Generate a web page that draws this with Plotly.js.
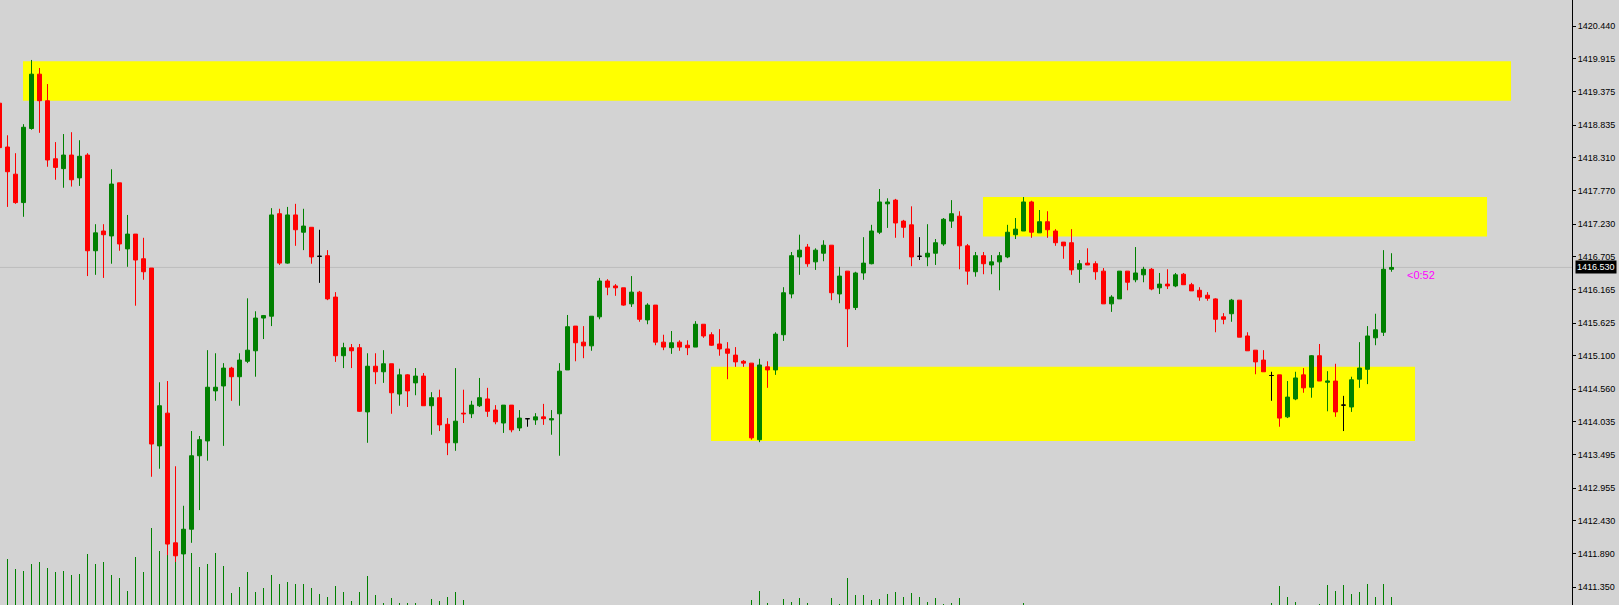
<!DOCTYPE html>
<html><head><meta charset="utf-8">
<script src="https://cdn.plot.ly/plotly-3.0.1.min.js"></script>
<style>html,body{margin:0;padding:0;background:#d3d3d3;overflow:hidden}</style>
</head><body><div id="chart" style="width:1619px;height:605px"></div>
<script>
const openP = [1419.19,1418.48,1418.04,1417.58,1418.78,1419.66,1419.23,1418.29,1418.13,1418.35,1417.98,1418.35,1416.80,1417.12,1417.04,1417.90,1416.83,1417.07,1416.67,1416.52,
1413.64,1414.17,1412.07,1411.89,1412.29,1413.48,1413.72,1414.53,1414.61,1414.90,1414.76,1415.01,1415.18,1415.71,1415.74,1417.40,1416.60,1417.38,1417.10,1417.18,
1416.71,1416.72,1416.05,1415.10,1415.23,1415.23,1414.19,1414.93,1414.84,1414.97,1414.48,1414.79,1414.66,1414.77,1414.29,1414.42,1413.99,1413.69,1414.17,1414.16,
1414.29,1414.40,1414.22,1414.01,1414.30,1413.93,1414.08,1414.06,1414.11,1414.06,1414.16,1414.87,1415.58,1415.32,1415.26,1415.73,1416.31,1416.23,1416.20,1415.94,
1416.13,1415.68,1415.92,1415.32,1415.23,1415.32,1415.27,1415.24,1415.61,1415.44,1415.29,1415.21,1415.11,1415.01,1414.98,1413.74,1414.92,1414.87,1415.44,1416.10,
1416.70,1416.86,1416.62,1416.76,1416.89,1416.10,1416.47,1415.88,1416.44,1416.59,1417.10,1417.56,1417.62,1417.28,1417.22,1416.71,1416.70,1416.76,1416.91,1417.28,
1417.36,1416.88,1416.46,1416.72,1416.57,1416.62,1416.70,1417.06,1417.12,1417.59,1417.09,1417.27,1417.12,1416.94,1416.93,1416.50,1416.60,1416.59,1416.47,1415.94,
1416.02,1416.47,1416.33,1416.41,1416.50,1416.20,1416.26,1416.23,1416.42,1416.25,1416.16,1416.08,1416.02,1415.73,1415.78,1416.00,1415.42,1415.19,1415.03,1414.78,
1414.79,1414.11,1414.40,1414.79,1414.59,1415.10,1414.67,1414.69,1414.30,1414.27,1414.72,1414.88,1415.39,1415.48,1416.50];
const highP = [1419.27,1418.67,1418.38,1418.85,1419.89,1419.76,1419.50,1418.56,1418.69,1418.72,1418.59,1418.38,1417.23,1417.23,1418.12,1417.90,1417.38,1417.07,1417.01,1416.52,
1414.67,1414.69,1413.31,1412.67,1413.88,1413.80,1415.19,1415.14,1414.98,1414.92,1415.14,1416.03,1415.82,1415.76,1417.49,1417.48,1417.51,1417.56,1417.48,1417.18,
1417.14,1416.81,1416.13,1415.31,1415.29,1415.29,1415.14,1415.14,1415.19,1414.97,1414.89,1414.80,1414.90,1414.82,1414.51,1414.55,1414.09,1414.90,1414.55,1414.37,
1414.74,1414.58,1414.30,1414.30,1414.30,1414.22,1414.09,1414.17,1414.32,1414.22,1414.98,1415.76,1415.58,1415.58,1415.74,1416.36,1416.34,1416.26,1416.20,1416.39,
1416.15,1415.95,1415.92,1415.44,1415.50,1415.35,1415.35,1415.66,1415.61,1415.48,1415.53,1415.32,1415.24,1415.03,1414.98,1415.05,1415.01,1415.48,1416.21,1416.78,
1417.06,1416.91,1416.84,1416.97,1416.89,1416.54,1416.47,1416.46,1417.02,1417.22,1417.80,1417.65,1417.64,1417.30,1417.52,1417.02,1417.23,1416.99,1417.33,1417.62,
1417.44,1416.91,1416.78,1416.78,1416.73,1416.78,1417.22,1417.33,1417.67,1417.61,1417.46,1417.44,1417.15,1416.94,1417.15,1416.65,1416.84,1416.63,1416.52,1416.08,
1416.47,1416.47,1416.86,1416.54,1416.52,1416.44,1416.50,1416.44,1416.44,1416.28,1416.21,1416.13,1416.03,1415.79,1416.02,1416.00,1415.48,1415.19,1415.19,1414.84,
1414.79,1414.69,1414.84,1414.90,1415.11,1415.29,1414.85,1414.97,1414.45,1414.76,1415.32,1415.58,1415.78,1416.81,1416.76];
const lowP = [1418.43,1417.51,1417.56,1417.35,1418.76,1418.71,1418.16,1417.95,1417.82,1417.84,1417.85,1416.39,1416.41,1416.36,1416.59,1416.80,1416.54,1415.91,1416.33,1413.14,
1413.27,1411.87,1411.76,1411.79,1412.07,1412.60,1413.40,1414.37,1413.64,1414.37,1414.29,1414.98,1414.76,1415.37,1415.58,1416.57,1416.59,1416.88,1416.81,1416.59,
1416.28,1416.00,1415.00,1414.90,1414.90,1414.19,1413.69,1414.64,1414.66,1414.16,1414.29,1414.27,1414.46,1414.29,1413.82,1413.88,1413.49,1413.56,1414.01,1414.09,
1414.27,1414.11,1413.99,1413.85,1413.86,1413.88,1413.95,1413.98,1413.98,1413.82,1413.48,1414.87,1415.01,1415.06,1415.18,1415.69,1416.08,1416.07,1415.91,1415.89,
1415.65,1415.61,1415.27,1415.19,1415.13,1415.18,1415.11,1415.24,1415.39,1415.26,1415.10,1414.72,1414.92,1414.92,1413.74,1413.70,1414.58,1414.79,1415.34,1416.03,
1416.41,1416.54,1416.49,1416.63,1416.00,1415.95,1415.24,1415.84,1416.33,1416.58,1417.07,1417.17,1417.01,1417.01,1416.55,1416.65,1416.55,1416.57,1416.88,1417.17,
1416.50,1416.25,1416.38,1416.42,1416.42,1416.16,1416.68,1416.99,1417.12,1417.01,1417.09,1417.01,1416.88,1416.67,1416.41,1416.28,1416.57,1416.33,1415.94,1415.81,
1416.02,1416.16,1416.29,1416.29,1416.16,1416.10,1416.18,1416.21,1416.25,1416.15,1415.99,1415.99,1415.48,1415.61,1415.65,1415.40,1415.18,1414.80,1414.84,1414.37,
1413.95,1414.09,1414.38,1414.50,1414.42,1414.69,1414.20,1414.11,1413.88,1414.19,1414.58,1414.64,1415.27,1415.42,1416.46];
const closeP = [1418.47,1418.08,1417.58,1418.80,1419.66,1419.23,1418.27,1418.15,1418.35,1417.95,1418.33,1416.80,1417.09,1417.06,1417.88,1416.91,1417.07,1416.65,1416.46,1413.67,
1414.29,1412.05,1411.86,1412.29,1413.48,1413.74,1414.59,1414.59,1414.90,1414.76,1415.03,1415.19,1415.71,1415.75,1417.38,1416.60,1417.38,1417.14,1417.20,1416.70,
1416.71,1416.02,1415.10,1415.23,1415.18,1414.20,1414.93,1414.84,1414.97,1414.50,1414.79,1414.53,1414.77,1414.29,1414.42,1413.98,1413.69,1414.04,1414.16,1414.30,
1414.42,1414.20,1414.03,1414.30,1413.90,1414.09,1414.08,1414.11,1414.08,1414.08,1414.85,1415.57,1415.31,1415.26,1415.74,1416.31,1416.21,1416.20,1415.92,1416.13,
1415.69,1415.92,1415.32,1415.24,1415.31,1415.24,1415.23,1415.61,1415.42,1415.27,1415.21,1415.14,1415.00,1414.98,1413.77,1414.95,1414.87,1415.45,1416.12,1416.72,
1416.81,1416.59,1416.81,1416.89,1416.12,1416.39,1415.86,1416.44,1416.60,1417.12,1417.59,1417.59,1417.25,1417.18,1416.70,1416.71,1416.76,1416.93,1417.31,1417.40,
1416.88,1416.47,1416.72,1416.59,1416.62,1416.72,1417.10,1417.15,1417.59,1417.10,1417.27,1417.14,1416.93,1416.88,1416.49,1416.59,1416.57,1416.46,1415.94,1416.05,
1416.47,1416.29,1416.44,1416.50,1416.18,1416.26,1416.23,1416.41,1416.25,1416.15,1416.05,1416.03,1415.69,1415.69,1416.00,1415.40,1415.18,1415.00,1414.84,1414.78,
1414.09,1414.43,1414.74,1414.58,1415.10,1414.69,1414.69,1414.19,1414.30,1414.71,1414.90,1415.42,1415.52,1416.50,1416.53];
const volume = [40,46,36,34,41,43,37,33,34,30,31,51,41,43,30,27,14,48,33,77,
54,70,60,65,52,38,41,52,39,12,18,33,13,17,30,21,23,21,21,17,
11,8,19,13,4,13,29,10,2,7,2,2,2,0,6,4,8,13,5,0,
0,0,0,0,0,0,0,0,0,0,0,0,0,0,0,0,0,0,0,0,
0,0,0,0,0,0,0,0,0,0,0,0,0,0,5,14,2,0,6,3,
7,2,0,0,7,1,27,10,10,5,6,11,13,8,12,8,3,7,1,2,
7,0,0,0,0,0,0,0,2,0,0,0,0,0,0,0,0,0,0,0,
0,0,0,0,0,0,0,0,0,0,0,0,0,0,0,0,0,0,0,2,
19,8,3,0,0,1,20,14,20,11,13,21,8,21,8];
const tickLabels = ['1420.440','1419.915','1419.375','1418.835','1418.310','1417.770','1417.230','1416.705','1416.165','1415.625','1415.100','1414.560','1414.035','1413.495','1412.955','1412.430','1411.890','1411.350'];
const zoneStart = [2.94, 122.94, 88.94];
const zoneEnd = [188.94, 185.94, 176.94];
const zoneTop = [1419.87, 1417.67, 1414.92];
const zoneBottom = [1419.23, 1417.03, 1413.72];
const timerText = '<0:52';

const idx = closeP.map((_, i) => i);
function pick(test) {
  const k = idx.filter(i => test(openP[i], closeP[i]));
  return {x: k, open: k.map(i => openP[i]), high: k.map(i => highP[i]), low: k.map(i => lowP[i]), close: k.map(i => closeP[i])};
}
function candle(d, col) {
  return Object.assign({type: 'candlestick', xaxis: 'x', yaxis: 'y2', hoverinfo: 'skip', whiskerwidth: 0,
    increasing: {line: {color: col, width: 1}, fillcolor: col},
    decreasing: {line: {color: col, width: 1}, fillcolor: col}, showlegend: false}, d);
}
const traces = [
  {type: 'bar', x: idx, y: volume, width: 0.125, marker: {color: '#008000', line: {width: 0}}, xaxis: 'x', yaxis: 'y', hoverinfo: 'skip', showlegend: false},
  candle(pick((o, c) => c > o), '#008000'),
  candle(pick((o, c) => c < o), '#ff0000'),
  candle(pick((o, c) => c === o), '#000000')
];
const last = closeP[closeP.length - 1];
const shapes = zoneStart.map((s, k) => ({type: 'rect', xref: 'x', yref: 'y2', x0: s, x1: zoneEnd[k], y0: zoneBottom[k], y1: zoneTop[k],
  fillcolor: '#ffff00', line: {width: 0}, layer: 'below'}));
shapes.push({type: 'line', xref: 'paper', yref: 'y2', x0: 0, x1: 1, y0: last, y1: last, line: {color: '#bdbdbd', width: 1}, layer: 'below'});
const layout = {
  width: 1619, height: 605,
  margin: {l: 0, r: 47, t: 0, b: 0, pad: 0},
  paper_bgcolor: '#d3d3d3', plot_bgcolor: '#d3d3d3',
  boxgap: 0.5, boxgroupgap: 0, hovermode: false,
  xaxis: {range: [0.0625, 196.5625], visible: false, showgrid: false, zeroline: false, rangeslider: {visible: false}, fixedrange: true},
  yaxis: {range: [0, 605], visible: false, showgrid: false, zeroline: false, fixedrange: true},
  yaxis2: {overlaying: 'y', side: 'right', range: [1411.063, 1420.861], showgrid: false, zeroline: false,
    showline: true, linecolor: '#000000', linewidth: 1, ticks: 'outside', ticklen: 3, tickwidth: 1, tickcolor: '#000000',
    tickvals: tickLabels.map(Number), ticktext: tickLabels, tickfont: {family: 'Liberation Sans', size: 9, color: '#000000'}, fixedrange: true},
  shapes: shapes,
  annotations: [
    {xref: 'paper', yref: 'y2', x: 1 + 3 / 1572, y: last, xanchor: 'left', yanchor: 'middle', text: last.toFixed(3), showarrow: false,
      bgcolor: '#000000', borderpad: 1, font: {family: 'Liberation Sans', size: 9, color: '#ffffff'}},
    {xref: 'x', yref: 'y2', x: 175.7, y: 1416.41, xanchor: 'left', yanchor: 'middle', text: timerText.replace('<', '&lt;'), showarrow: false,
      font: {family: 'Liberation Sans', size: 11, color: '#ff00ff'}}
  ]
};
Plotly.newPlot('chart', traces, layout, {staticPlot: true, displayModeBar: false});
</script></body></html>
